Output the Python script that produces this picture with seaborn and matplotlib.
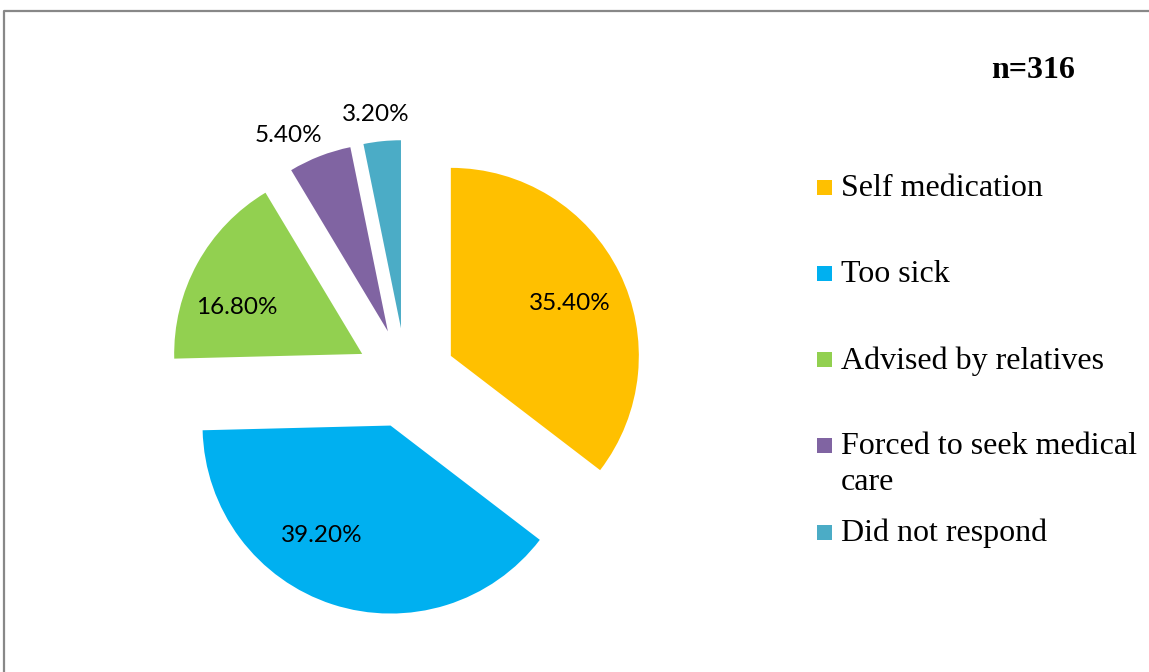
import numpy as np
import matplotlib
matplotlib.use("Agg")
import matplotlib.pyplot as plt
from matplotlib.lines import Line2D
from matplotlib.patches import Rectangle
import seaborn as sns

# ================================
# DATA
# ================================
categories = ["Self medication", "Too sick", "Advised by relatives",
              "Forced to seek medical\ncare", "Did not respond"]
percentages = [35.4, 39.2, 16.8, 5.4, 3.2]
sample_note = "n=316"
slice_colors = ["#FFC000", "#00B0F0", "#92D050", "#8064A2", "#4BACC6"]

# label placement (angle in degrees, distance as fraction of radius)
label_angle = [24.7, -122.3, 158.7, 116.6, 96.75]
label_dist = [0.698, 0.682, 0.715, 1.176, 1.153]

# ================================
# FIGURE (axes in pixel units)
# ================================
sns.set_theme(style="white")
W, H = 1149, 672
fig = plt.figure(figsize=(W / 100, H / 100), dpi=100)
ax = fig.add_axes([0, 0, 1, 1])

palette = sns.color_palette(slice_colors)
cx, cy, radius = 406, H - 378, 188
wedges, _, autotexts = ax.pie(
    percentages, colors=palette, startangle=90, counterclock=False,
    center=(cx, cy), radius=radius, explode=[50] * len(percentages),
    autopct="%.2f%%", wedgeprops=dict(linewidth=0),
    textprops=dict(family="Lato", fontsize=17.5, color="black"))

for w, t, ang, d in zip(wedges, autotexts, label_angle, label_dist):
    wx, wy = w.center
    a = np.deg2rad(ang)
    t.set_position((wx + d * radius * np.cos(a), wy + d * radius * np.sin(a)))
    t.set_ha("center")
    t.set_va("center_baseline")

ax.set_xlim(0, W)
ax.set_ylim(0, H)
ax.axis("off")

# ================================
# LEGEND (drawn manually, Excel style)
# ================================
leg_y = [187.5, 273.5, 359.5, 445.5, 532]
for lab, col, y in zip(categories, palette, leg_y):
    ax.add_patch(Rectangle((817, H - y - 7.5), 15, 15, color=col, lw=0))
    ax.text(841, H - y + 13, lab, family="Liberation Serif", fontsize=23,
            ha="left", va="top", linespacing=1.28, color="black")

ax.text(991, H - 78, sample_note, family="Liberation Serif", fontsize=23,
        fontweight="bold", ha="left", va="baseline", color="black")

# border (only top/left visible in the crop)
ax.add_line(Line2D([4, 4, W + 5], [-5, H - 11, H - 11], color="#888888",
                   lw=1.6, clip_on=False))

fig.savefig("out.png", dpi=100)
